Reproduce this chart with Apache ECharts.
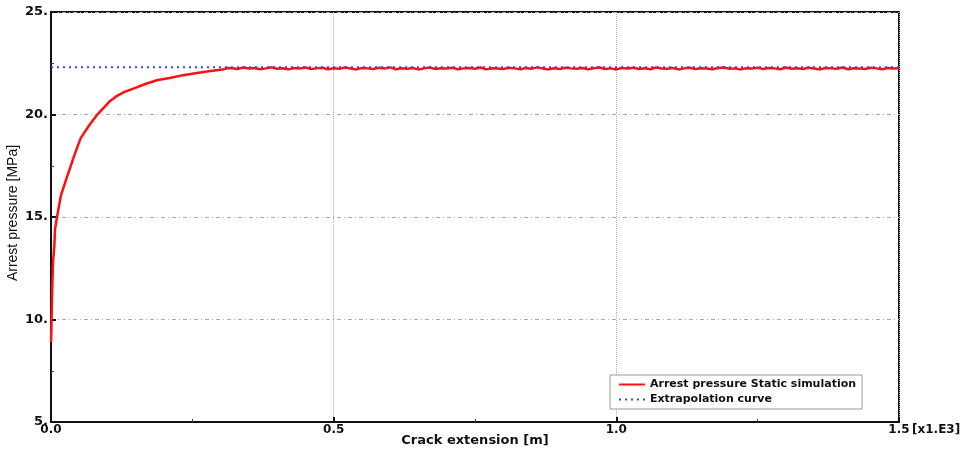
<!DOCTYPE html>
<html lang="en">
<head>
    <meta charset="UTF-8">
    <title>Arrest pressure</title>
    <script src="https://cdn.jsdelivr.net/npm/echarts@6/dist/echarts.min.js"></script>
    <style>
        body { margin: 0; background: #fff; }
    </style>
</head>
<body>
    <div id="main" style="width:970px;height:451px;"></div>
    <script>
        // rising part of the simulated curve
        let rampX = [0, 0.0003, 0.0018, 0.0035, 0.006, 0.007, 0.0106, 0.0177, 0.0295, 0.0414, 0.0525, 0.068, 0.0827, 0.103, 0.1145, 0.130, 0.148, 0.168, 0.189, 0.210, 0.234, 0.258, 0.282, 0.304, 0.313];
        let rampY = [8.9, 9.0, 11.1, 12.76, 13.63, 14.37, 15.0, 16.07, 17.05, 18.02, 18.85, 19.49, 20.02, 20.62, 20.87, 21.1, 21.29, 21.5, 21.68, 21.78, 21.92, 22.02, 22.12, 22.2, 22.27];

        // noisy plateau, one reading every 0.01 from 0.32 to 1.50
        let plateauStart = 0.32;
        let plateauStep = 0.01;
        let plateauY = [
            22.26, 22.22, 22.29, 22.24, 22.27, 22.21, 22.25, 22.30, 22.23, 22.26,
            22.20, 22.27, 22.24, 22.29, 22.22, 22.25, 22.28, 22.21, 22.26, 22.23,
            22.29, 22.24, 22.20, 22.27, 22.25, 22.22, 22.28, 22.24, 22.30, 22.21,
            22.26, 22.23, 22.27, 22.20, 22.25, 22.29, 22.22, 22.26, 22.24, 22.28,
            22.21, 22.25, 22.27, 22.23, 22.29, 22.20, 22.26, 22.24, 22.22, 22.28,
            22.25, 22.21, 22.27, 22.23, 22.30, 22.24, 22.20, 22.26, 22.22, 22.28,
            22.25, 22.23, 22.27, 22.21, 22.26, 22.29, 22.22, 22.25, 22.20, 22.27,
            22.24, 22.28, 22.22, 22.26, 22.21, 22.29, 22.24, 22.23, 22.27, 22.20,
            22.25, 22.28, 22.22, 22.26, 22.24, 22.21, 22.27, 22.29, 22.23, 22.25,
            22.20, 22.26, 22.24, 22.28, 22.22, 22.27, 22.25, 22.21, 22.29, 22.23,
            22.26, 22.22, 22.28, 22.24, 22.20, 22.27, 22.25, 22.23, 22.29, 22.21,
            22.26, 22.24, 22.22, 22.28, 22.25, 22.21, 22.27, 22.24, 22.26
        ];

        // extrapolation level
        let extrapX = [0, 1.5];
        let extrapY = [22.3, 22.3];

        let seriesNames = ['Arrest pressure Static simulation', 'Extrapolation curve'];
        let xTitle = 'Crack extension [m]';
        let yTitle = 'Arrest pressure [MPa]';

        let simData = [];
        for (let i = 0; i < rampX.length; i++) simData.push([rampX[i], rampY[i]]);
        for (let i = 0; i < plateauY.length; i++) {
            simData.push([+(plateauStart + i * plateauStep).toFixed(2), plateauY[i]]);
        }
        let extrapData = extrapX.map(function (x, i) { return [x, extrapY[i]]; });

        let labelFont = { fontFamily: 'DejaVu Sans', fontWeight: 'bold', fontSize: 13, color: '#111' };

        let chart = echarts.init(document.getElementById('main'));
        chart.setOption({
            animation: false,
            grid: {
                left: 51, right: 71, top: 12, bottom: 29,
                outerBoundsMode: 'none',
                containLabel: false,
                show: true, borderColor: '#111', borderWidth: 2
            },
            legend: {
                orient: 'vertical',
                left: 610, top: 375,
                itemWidth: 26, itemHeight: 10, itemGap: 4,
                padding: [4, 6, 4, 8],
                borderColor: '#999', borderWidth: 1, backgroundColor: '#fff',
                itemStyle: { opacity: 0 },
                textStyle: { fontFamily: 'DejaVu Sans', fontWeight: 'bold', fontSize: 11, color: '#111' },
                data: seriesNames
            },
            xAxis: {
                type: 'value', min: 0, max: 1.5, interval: 0.5,
                axisLine: { lineStyle: { color: '#111', width: 2 } },
                axisTick: { inside: true, length: 5, lineStyle: { color: '#111', width: 2 } },
                minorTick: { show: true, splitNumber: 2, length: 3, lineStyle: { color: '#444' } },
                axisLabel: Object.assign({ margin: 2, formatter: function (v) { return v.toFixed(1); } }, labelFont, { fontSize: 12 }),
                splitLine: { show: true, lineStyle: { color: '#aaa', type: 'dotted', width: 1 } }
            },
            yAxis: {
                type: 'value', min: 5, max: 25, interval: 5,
                axisLine: { lineStyle: { color: '#111', width: 2 } },
                axisTick: { inside: true, length: 5, lineStyle: { color: '#111', width: 2 } },
                minorTick: { show: true, splitNumber: 2, length: 3, lineStyle: { color: '#444' } },
                axisLabel: Object.assign({ margin: 3, formatter: function (v) { return v + '.'; } }, labelFont),
                splitLine: { show: true, lineStyle: { color: '#aaa', type: [4, 3, 1, 3], width: 1 } }
            },
            graphic: [{
                type: 'text', x: 475, y: 441,
                style: { text: xTitle, align: 'center', verticalAlign: 'middle',
                    fontFamily: 'DejaVu Sans', fontWeight: 'bold', fontSize: 13, fill: '#111' }
            }, {
                type: 'text', x: 13, y: 213, rotation: Math.PI / 2,
                style: { text: yTitle, align: 'center', verticalAlign: 'middle',
                    fontFamily: 'Liberation Sans', fontSize: 14, fill: '#111' }
            }, {
                type: 'text', left: 912, top: 424,
                style: { text: '[x1.E3]', fontFamily: 'DejaVu Sans', fontWeight: 'bold', fontSize: 12, fill: '#111' }
            }],
            series: [{
                name: seriesNames[0],
                type: 'line',
                data: simData,
                showSymbol: false,
                symbol: 'none',
                lineStyle: { color: '#ff1010', width: 2.5 },
                itemStyle: { color: '#ff1010' }
            }, {
                name: seriesNames[1],
                type: 'line',
                data: extrapData,
                showSymbol: false,
                symbol: 'none',
                lineStyle: { color: '#3344ff', width: 2, type: [2, 4] },
                itemStyle: { color: '#3344ff' }
            }]
        });
    </script>
</body>
</html>
